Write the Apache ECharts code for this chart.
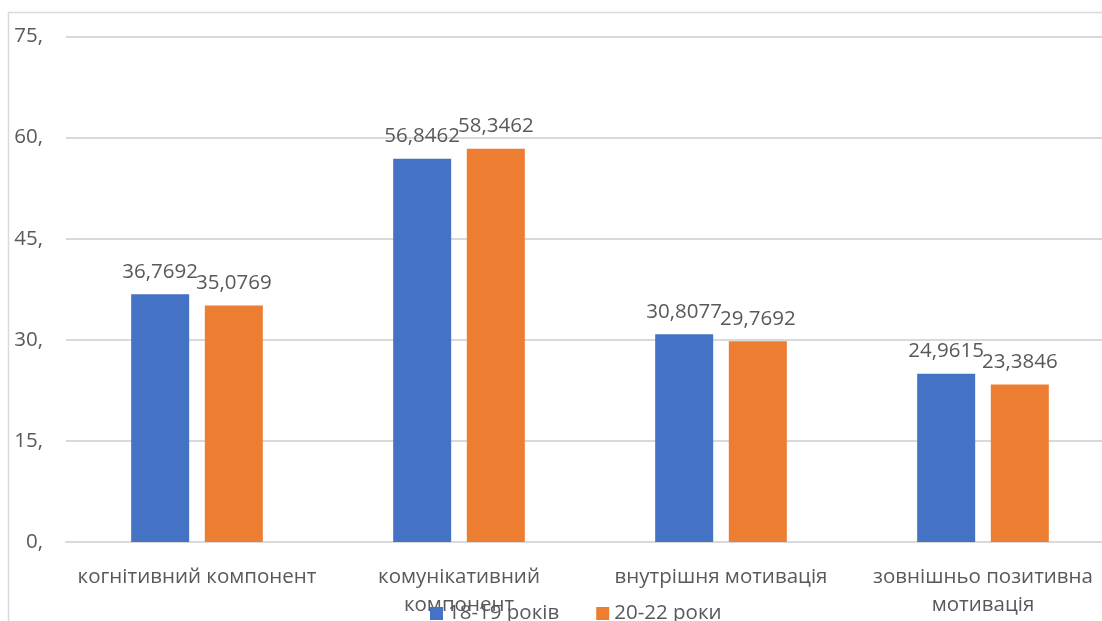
<!DOCTYPE html>
<html>
<head>
<meta charset="utf-8">
<script src="https://cdn.jsdelivr.net/npm/echarts@6/dist/echarts.min.js"></script>
<style>
  html, body { margin: 0; padding: 0; background: #fff; }
  #chart { width: 1102px; height: 621px; }
</style>
</head>
<body>
<div id="chart"></div>
<script>
// категорії (перенос рядка як на оригіналі)
const categories = [
  "когнітивний компонент",
  "комунікативний\nкомпонент",
  "внутрішня мотивація",
  "зовнішньо позитивна\nмотивація"
];
const seriesNames = ["18-19 років", "20-22 роки"];
const age1819 = [36.7692, 56.8462, 30.8077, 24.9615];
const age2022 = [35.0769, 58.3462, 29.7692, 23.3846];
const yTicks = { min: 0, max: 75, interval: 15 };

const textColor = "#595959";
const fontFamily = "'Open Sans', 'Noto Sans', sans-serif";
const commaFmt = (v) => String(v).replace(".", ",");

const chart = echarts.init(document.getElementById("chart"));
const barLabel = {
  show: true,
  position: "top",
  distance: 12,
  color: textColor,
  fontSize: 20.5,
  fontFamily: fontFamily,
  formatter: (p) => commaFmt(p.value)
};

chart.setOption({
  animation: false,
  textStyle: { fontFamily: fontFamily },
  graphic: [
    {
      type: "rect",
      shape: { x: 8.5, y: 12.5, width: 1300, height: 800 },
      style: { fill: "none", stroke: "#d9d9d9", lineWidth: 1.5 },
      silent: true
    }
  ],
  legend: {
    data: seriesNames,
    left: 425,
    top: 598,
    itemWidth: 13,
    itemHeight: 13,
    itemGap: 37,
    icon: "rect",
    textStyle: { color: textColor, fontSize: 20.5, fontFamily: fontFamily }
  },
  grid: {
    left: 66,
    right: -12,
    top: 36.5,
    bottom: 79,
    containLabel: false,
    outerBoundsMode: "none"
  },
  xAxis: {
    type: "category",
    data: categories,
    axisTick: { show: false },
    axisLine: { lineStyle: { color: "#d9d9d9", width: 2 } },
    axisLabel: {
      color: textColor,
      fontSize: 20.5,
      lineHeight: 28,
      margin: 21,
      interval: 0
    }
  },
  yAxis: {
    type: "value",
    min: yTicks.min,
    max: yTicks.max,
    interval: yTicks.interval,
    axisLine: { show: false },
    axisTick: { show: false },
    splitLine: { lineStyle: { color: "#d9d9d9", width: 2 } },
    axisLabel: {
      color: textColor,
      fontSize: 20.5,
      margin: 23,
      formatter: (v) => v + ","
    }
  },
  series: [
    {
      name: seriesNames[0],
      type: "bar",
      data: age1819,
      barWidth: 58,
      barGap: "27%",
      itemStyle: { color: "#4472c4" },
      label: barLabel
    },
    {
      name: seriesNames[1],
      type: "bar",
      data: age2022,
      barWidth: 58,
      itemStyle: { color: "#ed7d31" },
      label: barLabel
    }
  ]
});
</script>
</body>
</html>
